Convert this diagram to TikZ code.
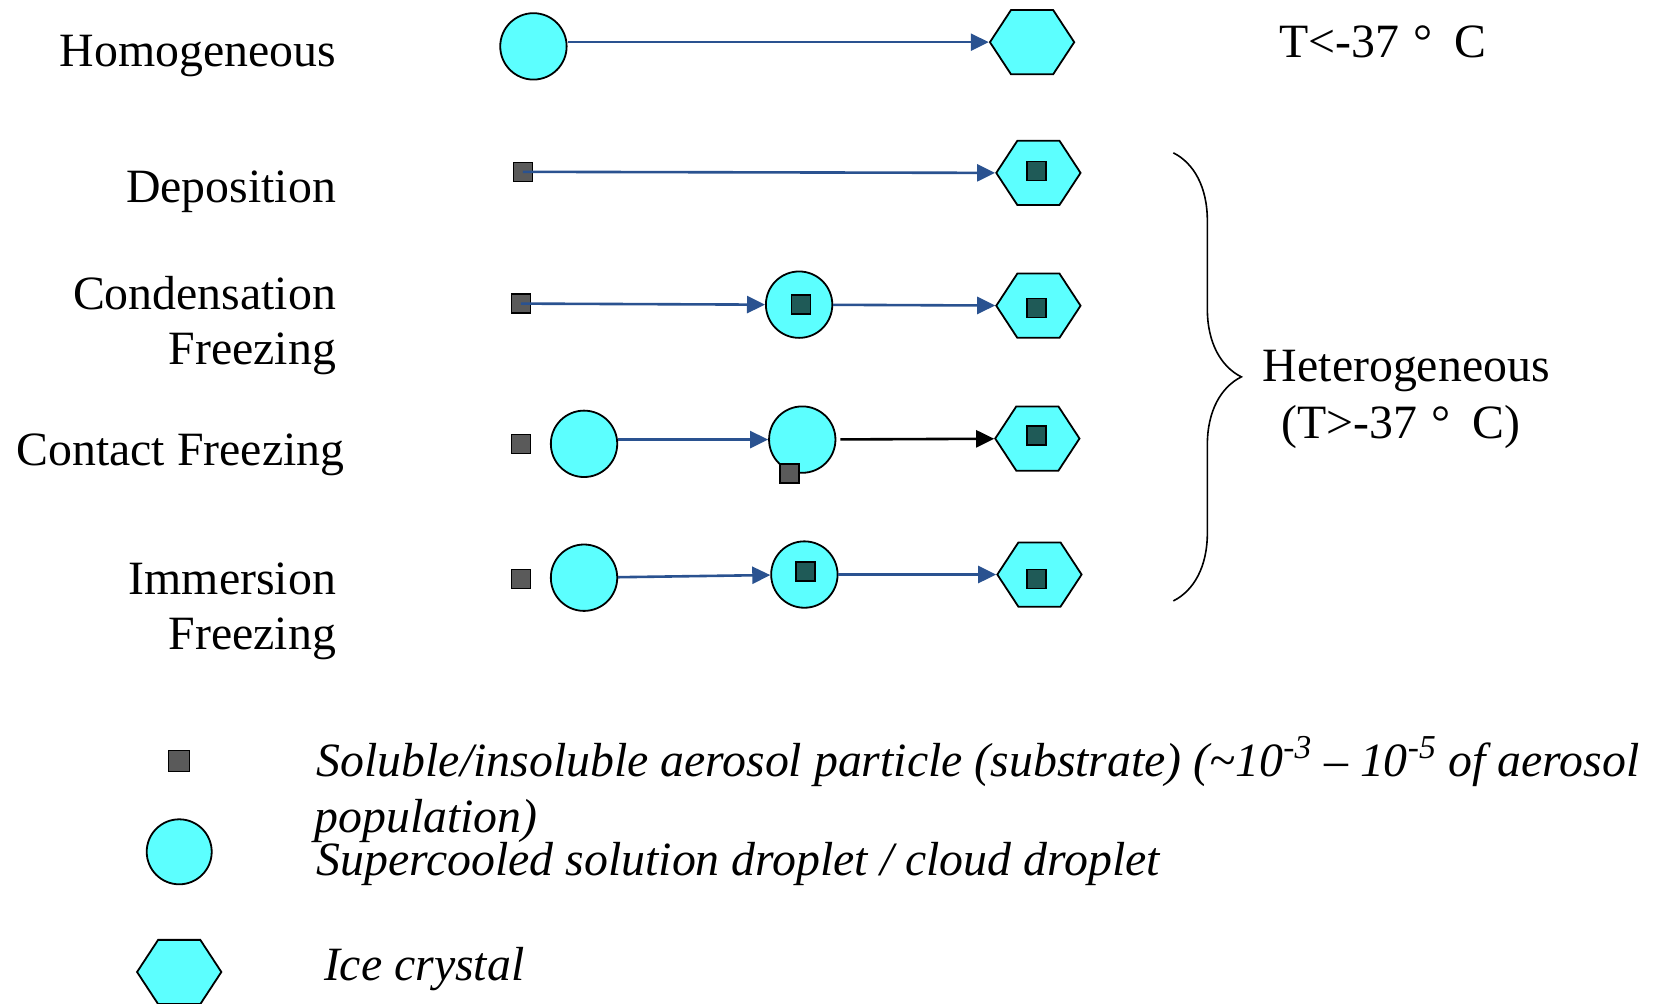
\documentclass[tikz,border=0pt]{standalone}
\usepackage{fontspec}
\setmainfont{Liberation Serif}
\usetikzlibrary{shapes.geometric,arrows.meta,decorations.pathreplacing}
\definecolor{dropcyan}{HTML}{5CFFFF}
\definecolor{grainfill}{HTML}{5A5A5A}
\definecolor{corefill}{HTML}{1F5A57}
\definecolor{arrowblue}{HTML}{2A5290}
\tikzset{
  drop/.style={circle,draw,fill=dropcyan,line width=0.9pt,minimum size=33.2pt,inner sep=0pt},
  ice/.style={regular polygon,regular polygon sides=6,draw,fill=dropcyan,line width=0.9pt,
    minimum size=37.1pt,inner sep=0pt,xscale=1.136,transform shape},
  grain/.style={rectangle,draw,fill=grainfill,line width=0.7pt,minimum size=9.5pt,inner sep=0pt},
  core/.style={grain,fill=corefill},
  flow/.style={draw=arrowblue,line width=1.3pt,-{Triangle[length=9pt,width=8.5pt]}},
  lbl/.style={font=\fontsize{23.9}{28}\selectfont,inner sep=0pt}
}
\begin{document}
\begin{tikzpicture}[x=0.5271pt,y=-0.5271pt]
\useasboundingbox (0,0) rectangle (1568,952);

\node[lbl,anchor=base east] (homog) at (319,63) {Homogeneous};
\node[lbl,anchor=base east] (depo) at (319,192) {Deposition};
\node[lbl,anchor=base east] (cond) at (319,294) {Condensation};
\node[lbl,anchor=base east] (condfr) at (319,346) {Freezing};
\node[lbl,anchor=base east] (cont) at (327,442) {Contact Freezing};
\node[lbl,anchor=base east] (imm) at (319,564) {Immersion};
\node[lbl,anchor=base east] (immfr) at (319,616) {Freezing};

\node[lbl,anchor=base west] (tlow) at (1213,55) {T<-37\hspace{0.3em}°\hspace{0.45em}C};
\node[lbl,anchor=base] (het) at (1334,362) {Heterogeneous};
\node[lbl,anchor=base] (thigh) at (1329,416) {(T>-37\hspace{0.3em}°\hspace{0.45em}C)};

\node[drop] (c1) at (506,44) {};
\node[ice] (h1) at (979,40) {};
\draw[flow] (c1.east |- h1.west) -- (h1.west);

\node[grain] (s2) at (496,163) {};
\node[ice] (h2) at (985,164) {};
\node[core] (k2) at (983,162) {};
\draw[flow] (s2.center) -- (h2.west);

\node[grain] (s3) at (494,288) {};
\node[drop] (c3) at (758,289) {};
\node[core] (k3a) at (760,289) {};
\node[ice] (h3) at (985,290) {};
\node[core] (k3b) at (983,292) {};
\draw[flow] (s3.center) -- (c3.west);
\draw[flow] (c3) -- (h3);

\node[grain] (s4a) at (494,421) {};
\node[drop] (c4a) at (554,421) {};
\node[drop] (c4b) at (761,417) {};
\node[grain] (s4b) at (749,449) {};
\node[ice] (h4) at (984,416) {};
\node[core] (k4) at (983,413) {};
\draw[flow] (c4a.east |- c4b.west) -- (c4b.west);
\draw[flow,draw=black,shorten <=2pt] (c4b) -- (h4);

\node[grain] (s5) at (494,549) {};
\node[drop] (c5a) at (554,548) {};
\node[drop] (c5b) at (763,545) {};
\node[core] (k5a) at (764,542) {};
\node[ice] (h5) at (986,545) {};
\node[core] (k5b) at (983,549) {};
\draw[flow] (c5a) -- (c5b);
\draw[flow] (c5b) -- (h5);

\coordinate (bt) at (1113,145);
\coordinate (bb) at (1113,570);
\draw[line width=0.8pt,decorate,decoration={brace,amplitude=34pt,aspect=0.5}] (bt) -- (bb);

\node[grain,minimum size=10.5pt] (lgrain) at (170,722) {};
\node[drop,minimum size=32.5pt] (ldrop) at (170,808) {};
\node[ice] (lice) at (170,922) {};
\node[lbl,anchor=base west] (tgrain) at (300,737) {\itshape Soluble/insoluble aerosol particle (substrate) (\textasciitilde10\textsuperscript{-3} – 10\textsuperscript{-5} of aerosol};
\node[lbl,anchor=base west] (tgrain2) at (298,790) {\itshape population)};
\node[lbl,anchor=base west] (tdrop) at (300,830) {\itshape Supercooled solution droplet / cloud droplet};
\node[lbl,anchor=base west] (tice) at (307,930) {\itshape Ice crystal};
\end{tikzpicture}
\end{document}
